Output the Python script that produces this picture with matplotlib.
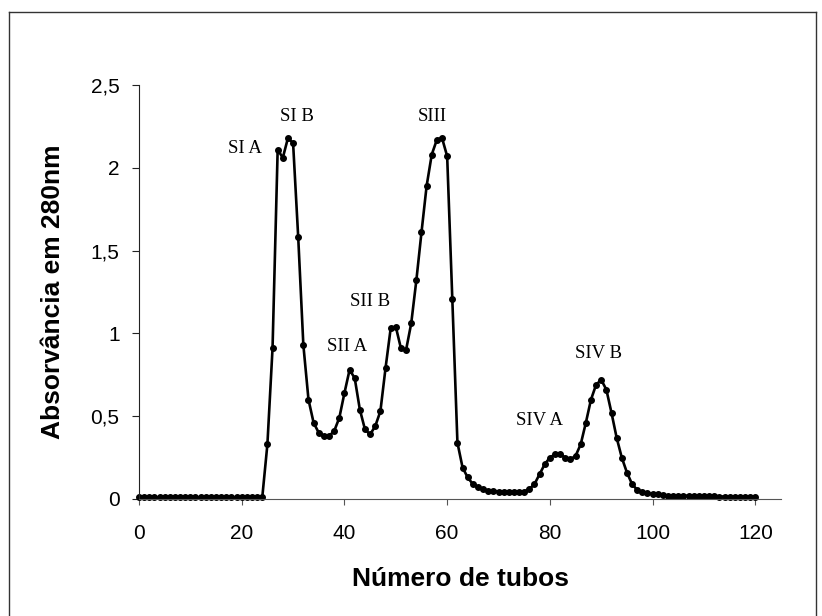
import numpy as np
import matplotlib
matplotlib.use('Agg')
import matplotlib.pyplot as plt
from matplotlib.lines import Line2D

# absorbance per tube (tubes 0..120)
tubes = list(range(0, 121))
absorb = [0.01] * 25 + [
    0.33, 0.91, 2.11, 2.06, 2.18, 2.15, 1.58, 0.93, 0.60, 0.46,    # 25-34
    0.40, 0.38, 0.38, 0.41, 0.49, 0.64, 0.78, 0.73, 0.54, 0.42,    # 35-44
    0.39, 0.44, 0.53, 0.79, 1.03, 1.04, 0.91, 0.90, 1.06, 1.32,    # 45-54
    1.61, 1.89, 2.08, 2.17, 2.18, 2.07, 1.21, 0.34, 0.19, 0.13,    # 55-64
    0.09, 0.07, 0.06, 0.05, 0.05, 0.045, 0.04, 0.04, 0.04, 0.04,   # 65-74
    0.045, 0.06, 0.09, 0.15, 0.21, 0.25, 0.27, 0.27, 0.25, 0.24,   # 75-84
    0.26, 0.33, 0.46, 0.60, 0.69, 0.72, 0.66, 0.52, 0.37, 0.25,    # 85-94
    0.16, 0.09, 0.055, 0.04, 0.035, 0.03, 0.03, 0.025, 0.02, 0.02, # 95-104
    0.02, 0.02, 0.02, 0.02, 0.02, 0.02, 0.02, 0.02, 0.015, 0.015,  # 105-114
    0.015, 0.015, 0.015, 0.015, 0.015, 0.015,                      # 115-120
]

peak_names = ['SI A', 'SI B', 'SII A', 'SII B', 'SIII', 'SIV A', 'SIV B']
peak_x = [20.6, 30.7, 40.5, 44.9, 57.2, 78.0, 89.5]
peak_y = [2.115, 2.31, 0.92, 1.19, 2.31, 0.475, 0.88]

xticks = [0, 20, 40, 60, 80, 100, 120]
yticks = [0, 0.5, 1, 1.5, 2, 2.5]
ytick_labels = ['0', '0,5', '1', '1,5', '2', '2,5']

plt.rcParams['font.family'] = ['Liberation Sans', 'DejaVu Sans']

fig = plt.figure(figsize=(8.22, 6.16), dpi=100)
ax = fig.add_axes([139 / 822, 117 / 616, 642 / 822, 414 / 616])

ax.plot(tubes, absorb, color='black', lw=1.9, marker='o', ms=4.0,
        markerfacecolor='black', markeredgecolor='black', clip_on=False)

ax.set_xlim(0, 125)
ax.set_ylim(0, 2.5)
ax.set_xticks(xticks)
ax.set_xticklabels([str(t) for t in xticks])
ax.set_yticks(yticks)
ax.set_yticklabels(ytick_labels)

ax.spines['top'].set_visible(False)
ax.spines['right'].set_visible(False)
ax.spines['left'].set_color('#222222')
ax.spines['bottom'].set_color('#555555')
ax.tick_params(axis='x', direction='out', length=4, width=0.8, colors='#555555',
               labelcolor='black', labelsize=15, pad=14)
ax.tick_params(axis='y', direction='out', length=5, width=0.8, colors='#222222',
               labelcolor='black', labelsize=15, pad=9)

ax.set_xlabel('Número de tubos', fontsize=19, fontweight='bold')
ax.xaxis.set_label_coords(0.5, -0.165)
ax.set_ylabel('Absorvância em 280nm', fontsize=19, fontweight='bold')
ax.yaxis.set_label_coords(-0.115, 0.5)

for name, px, py in zip(peak_names, peak_x, peak_y):
    ax.text(px, py, name, ha='center', va='center', fontsize=13.5,
            family='Liberation Serif')

# outer frame around the figure
for xs, ys in [([9, 9], [0, 604]), ([9, 816], [604, 604]), ([816, 816], [0, 604])]:
    fig.add_artist(Line2D([x / 822 for x in xs], [y / 616 for y in ys],
                          color='#333333', lw=1))

fig.savefig('out.png', dpi=100)
